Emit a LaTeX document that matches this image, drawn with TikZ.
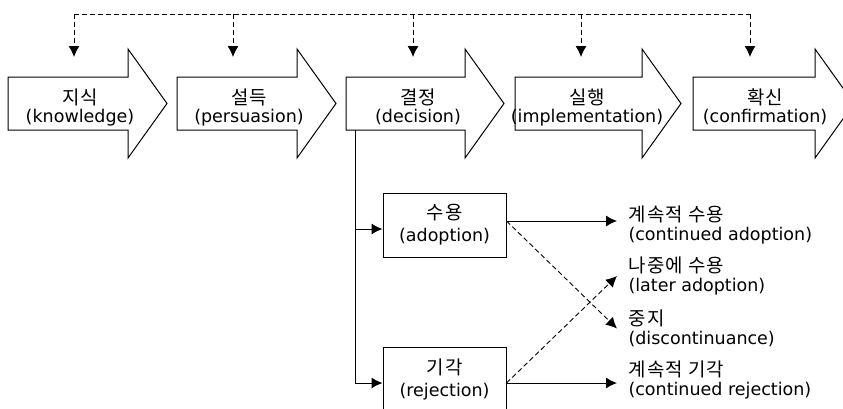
\documentclass[tikz,border=0pt]{standalone}
\usepackage{fontspec}
\setmainfont{DejaVu Sans}
\newfontfamily\kr[Scale=1.08, LetterSpace=6]{Noto Sans CJK KR}
\usetikzlibrary{arrows.meta}

\tikzset{
  stage/.style={draw, line width=1pt},
  stagetxt/.style={align=center, inner sep=0pt, font=\fontsize{17.5}{18}\selectfont},
  box/.style={draw, line width=1pt, minimum width=123pt, minimum height=64pt,
    align=center, inner sep=0pt, font=\fontsize{17.5}{22}\selectfont},
  lbl/.style={anchor=west, align=left, inner xsep=11pt, inner ysep=0pt,
    font=\fontsize{17.5}{19}\selectfont},
  fb/.style={line width=0.9pt, dash pattern=on 5pt off 3pt},
}

\begin{document}
\begin{tikzpicture}[x=1pt, y=-1pt, line width=1pt,
  >={Latex[length=11pt, width=11pt]}]

\useasboundingbox (0,0) rectangle (843,408);

% Stages
\foreach \x/\w/\nm/\kor/\eng in {
8/120/know/지식/knowledge,
177/120/pers/설득/persuasion,
346/119/deci/결정/decision,
515/127/impl/실행/implementation,
693/122/conf/확신/confirmation}
{
\draw[stage] (\x,77) -- (\x+\w,77) -- (\x+\w,49) -- (\x+\w+39,103.5)
  -- (\x+\w,158) -- (\x+\w,130) -- (\x,130) -- cycle;
\node[stagetxt] (\nm) at (\x+72,107) {{\kr \kor}\\(\eng)};
}

% Feedback
\foreach \i/\x in {1/74, 2/233, 3/413, 4/581, 5/750}
{
\coordinate (top\i) at (\x,14);
\coordinate (end\i) at (\x,57);
\draw[fb, ->] (top\i) -- (end\i);
}
\draw[fb] (top1) -- (top5);

% Decision
\coordinate (split) at (355,130);

\node[box] (adopt) at (444.5,225) {{\kr 수용}\\(adoption)};
\node[box] (reject) at (444.5,379) {{\kr 기각}\\(rejection)};

\coordinate (ain) at ([yshift=-4pt]adopt.west);
\coordinate (rin) at ([yshift=-4pt]reject.west);
\coordinate (aout) at ([yshift=4pt]adopt.east);
\coordinate (rout) at ([yshift=-4pt]reject.east);

\draw[->] (split) |- (rin);
\draw[->] (split |- ain) -- (ain);

% Results
\node[lbl] (cadopt) at (617,224.5) {{\kr 계속적 수용}\\(continued adoption)};
\node[lbl] (later) at (617,276) {{\kr 나중에 수용}\\(later adoption)};
\node[lbl] (discont) at (617,328.5) {{\kr 중지}\\(discontinuance)};
\node[lbl] (creject) at (617,380) {{\kr 계속적 기각}\\(continued rejection)};

\draw[->] (aout) -- (aout -| cadopt.west);
\draw[->] (rout) -- (rout -| creject.west);
\draw[fb, ->] (aout) -- (discont.west);
\draw[fb, ->] (rout) -- (later.west);

\end{tikzpicture}
\end{document}
